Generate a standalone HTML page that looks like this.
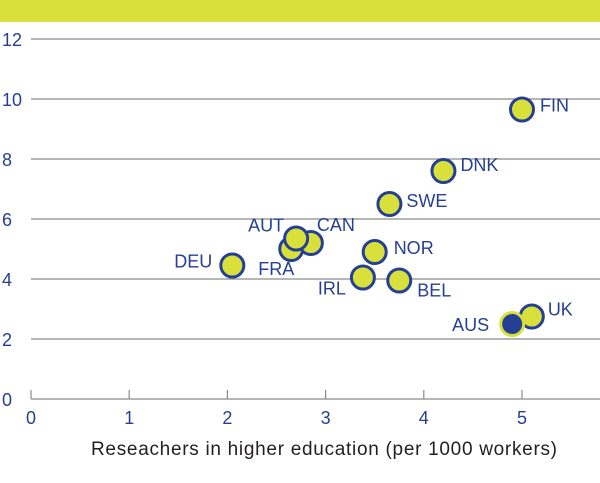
<!DOCTYPE html>
<html><head><meta charset="utf-8"><style>
body{margin:0;background:#fff;}
svg{display:block;font-family:"Liberation Sans",sans-serif;}
</style></head><body>
<svg id="chart" width="600" height="483" viewBox="0 0 600 483">
<rect x="0" y="0" width="600" height="22" fill="#d9e03c"/>
<g id="grid"></g><g id="axes"></g><g id="points"></g>
<text x="324" y="455" font-size="19" fill="#231f20" text-anchor="middle" textLength="466">Reseachers in higher education (per 1000 workers)</text>
</svg>
<script>
const countries=["FRA","CAN","AUT","DEU","NOR","IRL","BEL","SWE","DNK","FIN","UK","AUS"];
const xVals=[2.65,2.85,2.7,2.05,3.5,3.38,3.75,3.65,4.2,5.0,5.1,4.9];
const yVals=[5.0,5.2,5.35,4.45,4.9,4.05,3.95,6.5,7.6,9.65,2.75,2.5];
const yTicks=[0,2,4,6,8,10,12];
const xTicks=[0,1,2,3,4,5];
const labelPos=[["start",-33,20],["start",6,-18],["end",-12,-13],["end",-20,-4],["start",19,-4],["end",-17,11],["start",18,10],["start",17,-3],["start",17,-6],["start",18,-4],["start",16,-7],["end",-23,1]];
const NS="http://www.w3.org/2000/svg";
const X=v=>31+v*98.2, Y=v=>399-v*30;
function mk(p,t,a){const e=document.createElementNS(NS,t);for(const k in a)e.setAttribute(k,a[k]);p.appendChild(e);return e;}
const grid=document.getElementById('grid'),axes=document.getElementById('axes'),pts=document.getElementById('points');
yTicks.forEach(v=>{
 const l=mk(grid,'line',{x1:31,x2:600,y1:Y(v),y2:Y(v),stroke:'#8a8a8a','stroke-width':1.2});
 
 
 const t=mk(axes,'text',{x:2,y:Y(v)+7,'font-size':18,fill:'#253f94'});t.textContent=v;
 
 
});
xTicks.forEach(v=>{
 const l=mk(axes,'line',{x1:X(v),x2:X(v),y1:Y(0)-9,y2:Y(0),stroke:'#8a8a8a','stroke-width':1.2});
 
 
 const t=mk(axes,'text',{x:X(v),y:Y(0)+25,'font-size':18,fill:'#253f94','text-anchor':'middle'});t.textContent=v;
 
 
});
countries.forEach((c,i)=>{
 const aus=c==="AUS";
 const cx=X(xVals[i]),cy=Y(yVals[i]);
 const p=mk(pts,'circle',{cx:cx,cy:cy,r:11.5,fill:aus?'#253f94':'#d9e03c',stroke:aus?'#d9e03c':'#253f94','stroke-width':3});
 
 
 const lp=labelPos[i];
 const t=mk(pts,'text',{x:cx+lp[1],y:cy+lp[2]+6,'font-size':18,fill:'#253f94','text-anchor':lp[0]});t.textContent=c;
 
 
});
</script>
</body></html>
